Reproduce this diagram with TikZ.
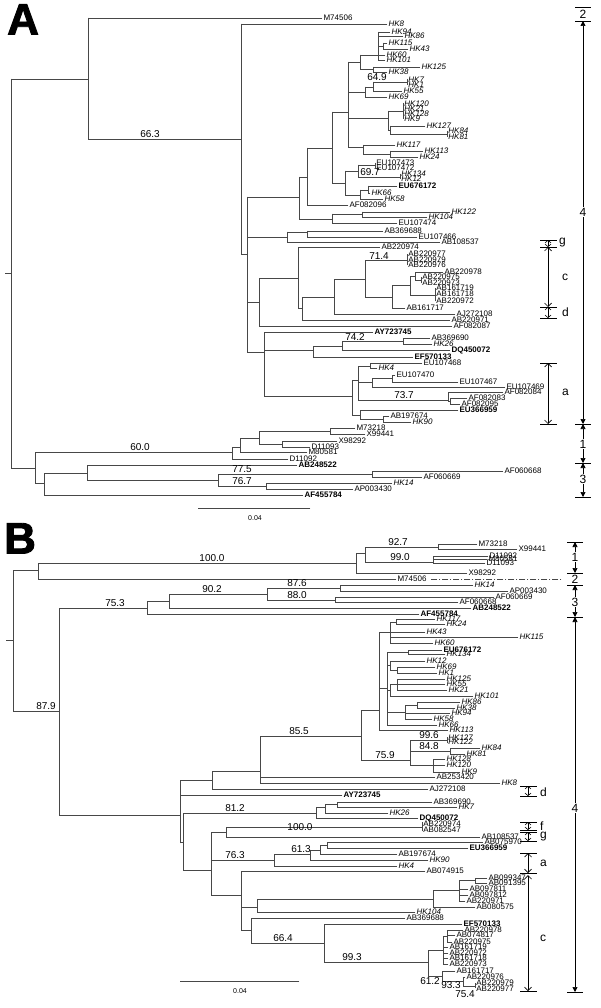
\documentclass[tikz,border=0pt]{standalone}
\usepackage{fontspec}
\setmainfont{Liberation Sans}
\newfontfamily\panelfont[FakeBold=2]{Liberation Sans Bold}
\usetikzlibrary{arrows.meta}

\tikzset{
  branch/.style={draw=black!72, line width=0.7pt, line cap=rect},
  leaf/.style={anchor=west, inner sep=1.2pt, font=\fontsize{8}{8}\selectfont},
  hkleaf/.style={leaf, font=\fontsize{8}{8}\selectfont\itshape},
  refleaf/.style={leaf, font=\fontsize{8}{8}\selectfont\bfseries},
  boot/.style={anchor=south, inner sep=0.8pt, font=\fontsize{10}{10}\selectfont},
  grp/.style={fill=white, inner sep=1pt, font=\fontsize{12}{12}\selectfont},
  sub/.style={anchor=west, inner sep=1pt, font=\fontsize{12}{12}\selectfont},
  bigarrow/.style={draw=black, line width=0.7pt, {Triangle[length=5pt,width=5pt]}-{Triangle[length=5pt,width=5pt]}},
  subarrow/.style={draw=black, line width=0.7pt, {Straight Barb[length=3.5pt,width=7pt]}-{Straight Barb[length=3.5pt,width=7pt]}},
  tinyarrow/.style={draw=black, line width=0.6pt, {Straight Barb[length=2.5pt,width=6pt]}-{Straight Barb[length=2.5pt,width=6pt]}},
  panel/.style={anchor=north west, inner sep=0pt, font=\fontsize{44}{44}\panelfont}
}

\begin{document}
\begin{tikzpicture}[x=1pt, y=-1pt]
  \useasboundingbox (0,0) rectangle (600,1008);

  % ---------- panel A ----------
  \node[panel] (labA) at (7,4) {A};

  \draw[branch] (5,273) -- (11,273);
  \foreach \x/\p/\q in {11/79/468, 88/18/139, 241/24/254, 247/197/352, 299/177/219, 307/148/205,
      332/112/183, 348/62/147, 360/55/69, 378/32/60, 383/43/49, 373/67/72, 365/87/97, 373/82/91,
      388/111/130, 390/126/134, 363/145/154, 390/151/157, 345/171/195, 358/165/177, 360/190/199,
      368/186/193, 332/214/223, 362/212/217, 287/232/242, 307/231/237, 259/278/326, 298/247/308,
      302/297/320, 334/279/314, 365/260/297, 392/285/308, 410/276/295, 415/272/280, 264/332/396,
      313/346/357, 342/341/350, 403/338/344, 352/380/415, 358/366/400, 370/363/368, 372/378/387,
      392/375/382, 448/392/401, 450/398/404, 360/410/419, 383/416/422,
      35/452/483, 232/447/459, 240/438/452, 259/431/444, 330/428/434, 282/441/447,
      44/473/495, 87/465/480, 218/474/486, 372/471/477, 266/483/489}
    \draw[branch] (\x,\p) -- (\x,\q);
  % bars of zero-length clusters
  \foreach \x/\p/\q in {407/79/85, 403/103/119, 447/131/137, 375/163/168, 400/174/179,
      407/254/265, 421/277/283, 435/288/301}
    \draw[branch] (\x,\p) -- (\x,\q);
  \foreach \a/\b/\y in {11/88/79, 88/241/139, 241/247/254, 247/299/197, 299/307/177, 307/332/148,
      332/348/112, 348/360/62, 360/378/55, 378/383/46, 360/373/69, 348/365/92, 365/373/87,
      373/407/82, 348/388/118, 388/403/111, 388/390/130, 390/447/134, 348/363/147, 363/390/154,
      332/345/183, 345/358/171, 358/375/165, 358/400/177, 345/360/195, 360/368/190,
      299/332/219, 332/362/214, 247/287/237, 287/307/232, 247/259/302, 259/298/278,
      298/302/308, 302/334/297, 334/365/279, 365/407/260, 365/392/297, 392/410/285,
      410/415/276, 415/421/280, 410/435/295, 247/264/352, 264/313/350, 313/342/346,
      342/403/341, 264/352/396, 352/358/380, 358/370/366, 358/372/382, 372/392/378,
      358/448/400, 448/450/401, 352/360/415, 360/383/419,
      11/35/468, 35/232/452, 232/240/447, 240/259/438, 259/330/431, 259/282/444,
      35/44/483, 44/87/473, 87/218/480, 218/372/474, 218/266/486}
    \draw[branch] (\a,\y) -- (\b,\y);

  \foreach \a/\b/\y/\t in {88/322/18/M74506, 307/348/205/AF082096, 332/397/223/EU107474,
      307/383/231/AB369688, 307/417/237/EU107466, 287/440/242/AB108537, 298/380/247/AB220974,
      415/443/272/AB220978, 392/405/308/AB161717, 334/455/314/AJ272108, 302/450/320/AB220971,
      259/452/326/AF082087, 403/430/338/AB369690, 370/422/363/EU107468, 392/395/375/EU107470,
      392/458/382/EU107467, 372/505/387/EU107469, 448/503/392/AF082084, 450/467/398/AF082083,
      450/460/404/AF082095, 383/389/416/AB197674, 330/355/428/M73218, 330/365/434/X99441,
      282/337/441/X98292, 282/310/447/D11093, 240/307/452/M80581, 232/288/459/D11092,
      372/503/471/AF060668, 372/422/477/AF060669, 266/353/489/AP003430}
    \draw[branch] (\a,\y) -- (\b,\y) node[leaf] (A\t) {\t};
  \foreach \a/\b/\y/\t in {241/387/24/HK8, 378/390/32/HK94, 378/403/36/HK86, 383/387/43/HK115,
      383/408/49/HK43, 378/385/55/HK60, 378/385/60/HK101, 373/420/67/HK125, 373/387/72/HK38,
      373/402/91/HK55, 365/387/97/HK69, 390/425/126/HK127, 363/395/145/HK117, 390/423/151/HK113,
      390/418/157/HK24, 368/370/193/HK66, 360/383/199/HK58, 362/450/212/HK122, 362/427/217/HK104,
      403/432/344/HK26, 370/377/368/HK4, 383/411/422/HK90, 266/392/483/HK14}
    \draw[branch] (\a,\y) -- (\b,\y) node[hkleaf] (A\t) {\t};
  \foreach \a/\b/\y/\t in {368/397/186/EU676172, 264/373/332/AY723745, 342/450/350/DQ450072,
      313/413/357/EF570133, 360/458/410/EU366959, 87/297/465/AB248522, 44/303/495/AF455784}
    \draw[branch] (\a,\y) -- (\b,\y) node[refleaf] (A\t) {\t};
  \foreach \x/\y/\t in {407/80/HK7, 407/85/HK1, 403/104/HK120, 403/109/HK21, 403/114/HK128,
      403/119/HK9, 447/131/HK84, 447/137/HK81, 400/174/HK134, 400/179/HK12}
    \node[hkleaf] (A\t) at (\x,\y) {\t};
  \foreach \x/\y/\t in {375/163/EU107473, 375/168/EU107472, 407/254/AB220977, 407/260/AB220979,
      407/265/AB220976, 421/277/AB220975, 421/283/AB220973, 435/288/AB161719, 435/294/AB161718,
      435/301/AB220972}
    \node[leaf] (A\t) at (\x,\y) {\t};

  \foreach \x/\y/\v in {150/139/66.3, 377/82/64.9, 370/177/69.7, 379/260/71.4, 355/341/74.2,
      404/400/73.7, 140/452/60.0, 242/474/77.5, 242/486/76.7}
    \node[boot] at (\x,\y) {\v};

  % scale bar A
  \draw[branch] (198,508) -- (310,508);
  \node[font=\fontsize{7}{7}\selectfont] (sbA) at (255,518) {0.04};

  % groups A
  \foreach \y in {7,21,424,463,497} \draw[line width=0.7pt] (575,\y) -- (591,\y);
  \node[grp] (gA2) at (583,14) {2};
  \draw[bigarrow] (583,21) -- (583,424);
  \node[grp] (gA4) at (583,212) {4};
  \draw[bigarrow] (583,424) -- (583,463);
  \node[grp] (gA1) at (583,444) {1};
  \draw[bigarrow] (583,463) -- (583,497);
  \node[grp] (gA3) at (583,479) {3};
  \foreach \y in {240,247,307,318,363,424} \draw[line width=0.7pt] (540,\y) -- (557,\y);
  \draw[tinyarrow] (548,240) -- (548,247);
  \node[sub] (sAg) at (558,243) {g};
  \draw[subarrow] (548,247) -- (548,307);
  \node[sub] (sAc) at (561,277) {c};
  \draw[tinyarrow] (548,307) -- (548,318);
  \node[sub] (sAd) at (561,312) {d};
  \draw[subarrow] (548,363) -- (548,424);
  \node[sub] (sAa) at (561,392) {a};

  % ---------- panel B ----------
  \node[panel] (labB) at (4,523) {B};

  \draw[branch] (6,640) -- (13,640);
  \foreach \x/\p/\q in {13/570/711, 38/563/579, 356/553/573, 365/547/562, 438/544/549, 433/556/563,
      59/608/815, 147/601/614, 169/594/608, 267/588/600, 340/585/591, 335/597/602,
      379/632/730, 390/622/643, 396/619/624, 387/652/725, 408/650/654, 390/661/670, 397/667/673,
      397/679/690, 390/684/696, 405/705/719, 417/702/708, 361/710/760, 410/740/765, 450/748/754,
      433/759/772,
      180/780/843, 212/771/789, 260/736/783, 183/813/870, 316/807/818, 325/804/813, 337/802/807,
      211/832/895, 226/827/837, 274/854/866, 310/850/860, 320/845/854, 327/842/848,
      241/871/930, 257/899/912, 433/890/907, 459/880/901, 475/878/883, 251/918/943,
      324/924/962, 428/950/976, 447/930/942, 443/936/964, 442/971/981, 463/977/986}
    \draw[branch] (\x,\p) -- (\x,\q);
  \foreach \x/\p/\q in {447/737/743, 422/822/831, 475/983/988}
    \draw[branch] (\x,\p) -- (\x,\q);
  \foreach \a/\b/\y in {13/38/570, 38/356/563, 356/365/553, 365/438/547, 365/433/562,
      13/59/711, 59/147/608, 147/169/601, 169/267/594, 267/340/588, 267/335/600,
      260/361/736, 361/379/710, 379/390/632, 390/396/622, 379/387/688, 387/408/652,
      387/390/665, 390/397/670, 387/390/690, 390/397/684, 387/405/712, 405/417/705,
      361/410/760, 410/447/740, 410/450/751, 410/433/765,
      59/180/815, 180/212/780, 212/260/771, 180/183/842, 183/316/813, 316/325/807, 325/337/804,
      183/211/870, 211/226/832, 226/422/827, 211/274/860, 274/310/854, 310/320/850, 320/327/845,
      211/241/895, 241/257/907, 257/433/899, 433/459/890, 459/475/880,
      241/251/930, 251/324/943, 324/428/962, 428/443/950, 428/442/976, 443/447/936,
      442/463/981, 463/475/986}
    \draw[branch] (\a,\y) -- (\b,\y);
  \draw[branch, dash pattern=on 6pt off 2pt on 1pt off 2pt] (431,579) -- (562,579);

  \foreach \a/\b/\y/\t in {438/477/544/M73218, 438/517/549/X99441, 433/488/556/D11092,
      433/487/559/M80581, 433/485/563/D11093, 356/467/573/X98292, 38/396/579/M74506,
      340/508/591/AP003430, 335/494/597/AF060669, 335/458/602/AF060668,
      260/435/777/AB253420, 212/428/789/AJ272108, 337/432/802/AB369690, 226/480/837/AB108537,
      327/483/842/AB075970, 320/397/854/AB197674, 241/425/871/AB074915, 475/487/878/AB099347,
      475/487/883/AB091395, 459/468/889/AB097811, 459/468/895/AB097812, 459/465/901/AB220971,
      433/475/907/AB080575, 251/405/918/AB369688, 447/463/930/AB220978, 447/455/935/AB074817,
      447/452/942/AB220975, 443/448/947/AB161719, 443/448/953/AB220972, 443/448/958/AB161718,
      443/448/964/AB220973, 442/455/971/AB161717, 463/465/977/AB220976}
    \draw[branch] (\a,\y) -- (\b,\y) node[leaf] (B\t) {\t};
  \foreach \a/\b/\y/\t in {340/473/585/HK14, 396/435/619/HK117, 396/445/624/HK24, 390/425/632/HK43,
      390/518/637/HK115, 390/433/643/HK60, 390/425/661/HK12, 397/435/667/HK69, 397/437/673/HK1,
      397/445/679/HK125, 397/445/684/HK55, 397/447/690/HK21, 390/473/696/HK101, 417/460/702/HK86,
      417/455/708/HK38, 405/450/713/HK94, 405/432/719/HK58, 387/437/725/HK66, 379/448/730/HK113,
      450/480/748/HK84, 450/465/754/HK81, 433/445/759/HK128, 433/445/765/HK120, 433/460/772/HK9,
      260/500/783/HK8, 337/457/807/HK7, 325/388/813/HK26, 310/428/860/HK90, 274/397/866/HK4,
      257/415/912/HK104}
    \draw[branch] (\a,\y) -- (\b,\y) node[hkleaf] (B\t) {\t};
  \foreach \a/\b/\y/\t in {169/471/608/AB248522, 147/419/614/AF455784, 408/442/650/EU676172,
      180/342/795/AY723745, 316/418/818/DQ450072, 327/468/848/EU366959, 324/462/924/EF570133}
    \draw[branch] (\a,\y) -- (\b,\y) node[refleaf] (B\t) {\t};
  \draw[branch] (408,654) -- (445,654) node[hkleaf] (BHK134) {HK134};
  \foreach \x/\y/\t in {447/738/HK127, 447/742/HK122}
    \node[hkleaf] (B\t) at (\x,\y) {\t};
  \foreach \x/\y/\t in {422/824/AB220974, 422/830/AB082547, 475/983/AB220979, 475/989/AB220977}
    \node[leaf] (B\t) at (\x,\y) {\t};

  \foreach \x/\y/\v in {398/547/92.7, 212/563/100.0, 400/562/99.0, 297/588/87.6, 212/594/90.2,
      297/600/88.0, 115/608/75.3, 46/711/87.9, 299/736/85.5, 429/740/99.6, 429/751/84.8,
      385/760/75.9, 235/813/81.2, 300/832/100.0, 301/854/61.3, 235/860/76.3, 283/943/66.4,
      352/962/99.3}
    \node[boot] at (\x,\y) {\v};
  \node[boot, anchor=north] at (430,977) {61.2};
  \node[boot, anchor=north] at (451,981) {93.3};
  \node[boot, anchor=north] at (465,990) {75.4};

  % scale bar B
  \draw[branch] (180,981) -- (299,981);
  \node[font=\fontsize{7}{7}\selectfont] (sbB) at (240,991) {0.04};

  % groups B
  \foreach \y in {542,573,585,617,992} \draw[line width=0.7pt] (567,\y) -- (583,\y);
  \draw[bigarrow] (575,542) -- (575,573);
  \node[grp] (gB1) at (575,557) {1};
  \node[grp] (gB2) at (575,579) {2};
  \draw[bigarrow] (575,585) -- (575,617);
  \node[grp] (gB3) at (575,602) {3};
  \draw[bigarrow] (575,617) -- (575,992);
  \node[grp] (gB4) at (575,808) {4};
  \foreach \y in {786,796,822,830,832,841,853,873,991} \draw[line width=0.7pt] (520,\y) -- (537,\y);
  \draw[tinyarrow] (528,786) -- (528,796);
  \node[sub] (sBd) at (539,792) {d};
  \draw[tinyarrow] (528,822) -- (528,830);
  \node[sub] (sBf) at (539,826) {f};
  \draw[tinyarrow] (528,832) -- (528,841);
  \node[sub] (sBg) at (539,837) {g};
  \draw[subarrow] (528,853) -- (528,873);
  \node[sub] (sBa) at (539,863) {a};
  \draw[subarrow] (528,875) -- (528,991);
  \node[sub] (sBc) at (539,938) {c};
\end{tikzpicture}
\end{document}
